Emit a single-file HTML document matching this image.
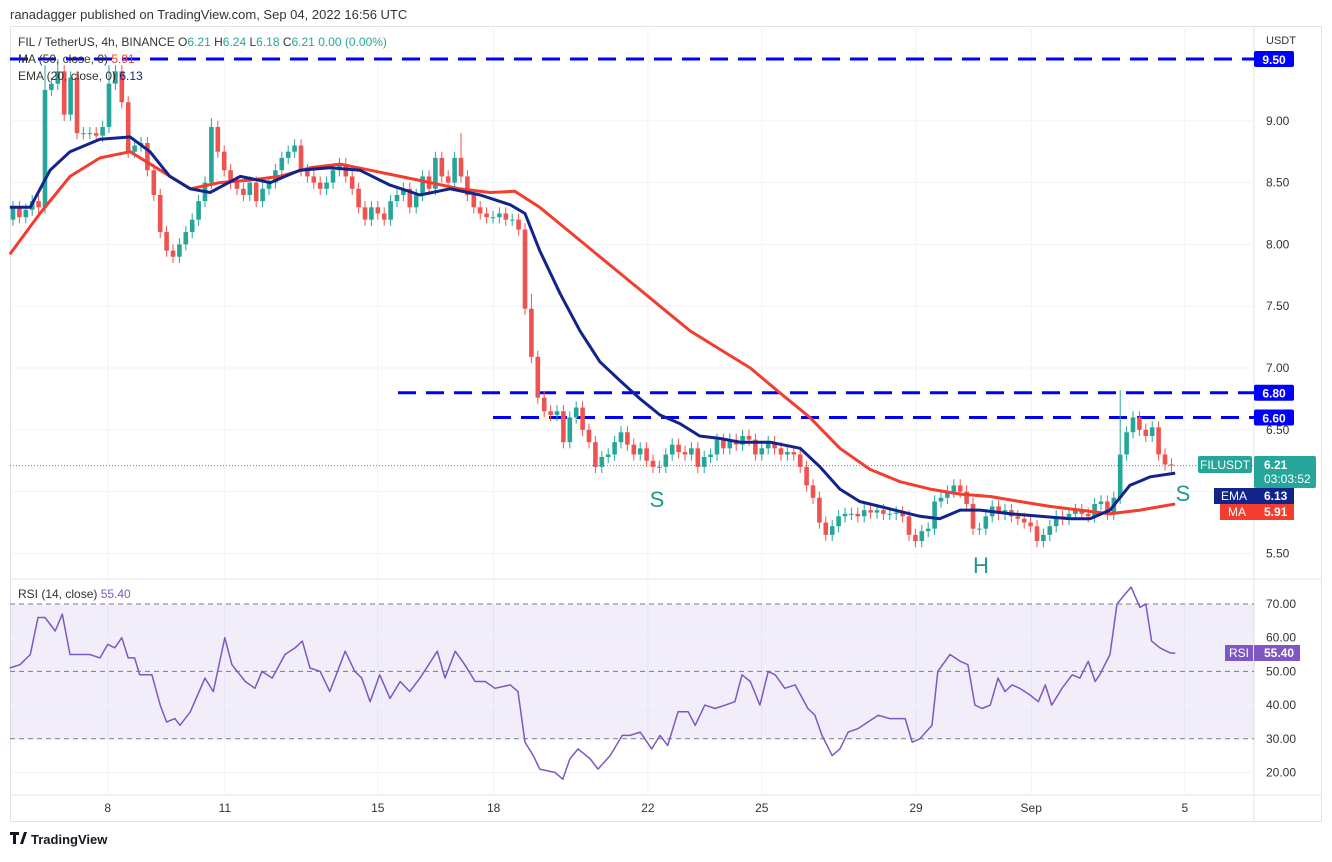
<!DOCTYPE html>
<html><head><meta charset="utf-8"><style>
body{margin:0;background:#fff;font-family:"Liberation Sans",sans-serif;}
svg text{font-family:"Liberation Sans",sans-serif;}
</style></head><body>
<svg id="c" width="1332" height="857" viewBox="0 0 1332 857" xmlns="http://www.w3.org/2000/svg"></svg>
<script>
const closes=[8.3,8.22,8.28,8.35,8.3,9.25,9.3,9.4,9.05,9.35,8.9,8.9,8.9,8.88,8.95,
9.3,9.4,9.15,8.75,8.8,8.82,8.6,8.4,8.1,7.95,7.9,8.0,8.1,8.2,8.35,8.5,
8.95,8.75,8.6,8.5,8.45,8.4,8.5,8.35,8.45,8.5,8.6,8.7,8.75,8.8,8.6,8.55,8.5,8.45,8.5,8.6,
8.65,8.55,8.45,8.3,8.2,8.3,8.25,8.2,8.35,8.4,8.45,8.3,8.4,8.55,8.45,8.7,8.55,8.5,8.7,8.55,
8.4,8.3,8.25,8.22,8.22,8.25,8.2,8.2,8.12,7.48,7.09,6.76,6.65,6.62,6.65,6.4,6.6,6.68,6.5,6.4,
6.2,6.28,6.3,6.4,6.48,6.38,6.3,6.35,6.25,6.2,6.2,6.3,6.38,6.32,6.3,6.35,6.2,6.28,6.3,6.42,
6.35,6.42,6.38,6.45,6.42,6.3,6.35,6.4,6.35,6.3,6.32,6.3,6.2,6.05,5.95,5.75,5.65,5.72,5.8,5.82,
5.82,5.8,5.85,5.83,5.85,5.82,5.82,5.83,5.8,5.65,5.6,5.68,5.7,5.92,5.95,6.0,6.05,6.0,5.9,5.7,
5.7,5.8,5.88,5.82,5.85,5.8,5.78,5.75,5.72,5.6,5.65,5.72,5.8,5.78,5.82,5.85,5.82,5.8,5.9,5.92,
5.82,5.95,6.3,6.48,6.6,6.5,6.45,6.52,6.3,6.22,6.21];
const firstOpen=8.2;
const spikeIdx=[5,7,15,31,70,81,173,176];
const spikeHigh=[9.45,9.5,9.45,9.02,8.9,7.6,6.82,6.65];
const emaT=[-0.5,2.7,5.8,8.9,13.6,18.3,21.4,24.5,27.7,30.8,35.5,40.2,44.8,49.5,54.2,58.9,63.6,68.3,73,77.7,80,82.3,85.5,88.6,91.7,94.8,98,101.1,104.2,107.3,110.5,113.6,118.3,123,126.1,129.2,132.3,137,141.7,144.8,148,151.1,155.8,160.5,165.2,168.3,171.4,174.5,177.7,181.6];
const emaV=[8.3,8.3,8.6,8.75,8.85,8.87,8.75,8.55,8.45,8.42,8.55,8.5,8.6,8.62,8.6,8.48,8.4,8.45,8.4,8.32,8.25,7.95,7.6,7.3,7.05,6.9,6.75,6.62,6.55,6.45,6.43,6.4,6.4,6.35,6.2,6.02,5.92,5.86,5.8,5.78,5.85,5.85,5.82,5.8,5.78,5.78,5.85,6.05,6.12,6.15];
const maT=[-0.5,4.2,8.9,13.6,18.3,23,27.7,32.3,37,41.7,46.4,51.1,55.8,60.5,65.2,69.8,74.5,78.4,82.3,87,91.7,96.4,101.1,105.8,110.5,115.2,119.8,124.5,129.2,133.9,138.6,143.3,148,152.7,157.3,162,166.7,171.4,176.1,181.6];
const maV=[7.92,8.25,8.55,8.7,8.75,8.6,8.45,8.5,8.52,8.55,8.62,8.65,8.6,8.55,8.5,8.45,8.42,8.43,8.3,8.1,7.9,7.7,7.5,7.3,7.15,7.0,6.8,6.6,6.35,6.18,6.08,6.02,5.98,5.96,5.92,5.88,5.85,5.82,5.85,5.9];
const rsiT=[-0.5,1.1,2.7,3.9,5,6.6,7.7,8.9,12,13.6,14.8,15.9,17,18,19,19.8,21.7,23,24,25.3,26.1,27.7,30,31.3,33.1,34.2,36.3,37.8,38.9,40.5,42.5,44.1,45.2,46.4,48,49.5,51.9,53.4,54.5,55.8,57.3,58.9,60.5,62,63.6,66.3,67.5,69.1,70.6,72.2,73.8,75.3,77.7,78.9,80,81.3,82.3,84.7,85.9,87,88.3,90.2,91.4,93.3,95.2,96.4,98,99.8,101.1,102.3,103.9,105.5,106.6,108.1,109.7,111.3,112.8,113.9,115.2,116.7,118,119.1,120.6,122.2,124.2,125.3,126.4,128,129.2,130.5,132,133.6,135.2,137,139.4,140.5,141.7,143.6,144.5,146.4,148,149.2,150.3,151.4,152.7,153.9,155,156.1,157.3,158.9,160.2,161.3,162.3,163.9,165.5,166.7,168,169.1,169.8,171.4,172.5,173.8,174.7,176.1,177,177.9,179.2,180.8,181.6];
const rsiV=[51,52,55,66,66,62,67,55,55,54,58,57,60,54,54,49,49,40,35,36,34,38,48,44,60,52,47,45,50,48,55,57,59,51,50,44,56,50,48,41,49,42,47,44,48,56,48,56,52,47,47,45,46,44,29,25,21,20,18,24,27,24,21,25,31,31,32,27,31,28,38,38,34,40,39,40,41,49,47,40,50,49,45,46,39,37,31,25,27,32,33,35,37,36,36,29,30,34,50,55,53,52,40,39,40,48,44,46,45,43,41,46,40,45,49,48,53,47,49,55,70,73,75,69,70,59,57,55.5,55.4];
const priceTicks=[9.5,9.0,8.5,8.0,7.5,7.0,6.5,6.0,5.5];
const priceTickLabels=["9.50","9.00","8.50","8.00","7.50","7.00","6.50","6.00","5.50"];
const rsiTicks=[70,60,50,40,30,20];
const dateLabels=["8","11","15","18","22","25","29","Sep","5"];
const dateT=[14.8,33.1,57,75.1,99.2,117,141.1,159.1,183.1];

const NS="http://www.w3.org/2000/svg";
const svg=document.getElementById('c');
function el(tag,a,parent){const e=document.createElementNS(NS,tag);for(const k in a)e.setAttribute(k,a[k]);(parent||svg).appendChild(e);return e;}
const X0=13,DX=6.4,L=10,R=1254;
const xs=t=>X0+t*DX;
const ys=p=>59+(9.5-p)*123.6;
const ry=v=>604+(70-v)*3.37;

// frame
let f=el('rect',{x:10.5,y:26.5,width:1311,height:795,fill:'none',stroke:'#e0e3eb'});

el('line',{x1:R,y1:26,x2:R,y2:821,stroke:'#e0e3eb'});
el('line',{x1:10,y1:579,x2:1322,y2:579,stroke:'#e0e3eb'});
el('line',{x1:10,y1:795,x2:1322,y2:795,stroke:'#e0e3eb'});
// grid
priceTicks.forEach((p,i)=>{if(i>0)el('line',{x1:L,x2:R,y1:ys(p),y2:ys(p),stroke:'#f0f3fa'});
 const t=el('text',{x:1266,y:ys(p)+4,'font-size':12,fill:'#333'});t.textContent=priceTickLabels[i];
 });
dateT.forEach((d,i)=>{const x=xs(d);el('line',{x1:x,x2:x,y1:26,y2:795,stroke:'#f0f3fa'});
 const t=el('text',{x:x,y:812,'font-size':12,fill:'#333','text-anchor':'middle'});t.textContent=dateLabels[i];
 });
// RSI pane
let band=el('rect',{x:L,y:ry(70),width:R-L,height:ry(30)-ry(70),fill:'rgba(126,87,194,0.1)'});

rsiTicks.forEach(v=>{
 if(v==70||v==50||v==30)el('line',{x1:L,x2:R,y1:ry(v),y2:ry(v),stroke:'#787b86','stroke-dasharray':'5,4'});
 else el('line',{x1:L,x2:R,y1:ry(v),y2:ry(v),stroke:'#f0f3fa'});
 const t=el('text',{x:1266,y:ry(v)+4,'font-size':12,fill:'#333'});t.textContent=v.toFixed(2);
 });
// horizontal levels
function level(p,x1,lbl){const ln=el('line',{x1:x1,x2:R,y1:ys(p),y2:ys(p),stroke:'#0000ff','stroke-width':3,'stroke-dasharray':'18,10'});
 
 el('rect',{x:R,y:ys(p)-8,width:40,height:16,fill:'#0000ff',rx:2});
 const t=el('text',{x:R+20,y:ys(p)+5,'font-size':12,fill:'#fff','text-anchor':'middle','font-weight':'bold'});t.textContent=lbl;}
level(9.5,10,'9.50');level(6.8,398,'6.80');level(6.6,493,'6.60');
// last price dotted
el('line',{x1:L,x2:R,y1:ys(6.21),y2:ys(6.21),stroke:'#26a69a','stroke-dasharray':'1,2'});
// candles
let prev=firstOpen;
closes.forEach((c,i)=>{const o=prev;prev=c;const up=c>=o;const col=up?'#26a69a':'#ef5350';
 let hi=Math.max(o,c)+0.05,lo=Math.min(o,c)-0.05;const k=spikeIdx.indexOf(i);if(k>=0)hi=spikeHigh[k];
 const x=xs(i);
 const w=el('line',{x1:x,x2:x,y1:ys(hi),y2:ys(lo),stroke:col,'stroke-width':1});
 const b=el('rect',{x:x-2.3,y:ys(Math.max(o,c)),width:4.6,height:Math.max(1,ys(Math.min(o,c))-ys(Math.max(o,c))),fill:col});
 
 });
function path(T,V,fy,col,w,name){const d=T.map((t,i)=>(i?'L':'M')+xs(t).toFixed(1)+','+fy(V[i]).toFixed(1)).join('');
 const p=el('path',{d:d,fill:'none',stroke:col,'stroke-width':w,'stroke-linejoin':'round'});
 }
path(maT,maV,ys,'#f23d2f',3,'ma50-line');
path(emaT,emaV,ys,'#10248c',3,'ema20-line');
path(rsiT,rsiV,ry,'#7e57c2',1.5,'rsi-line');
// annotations
[['S',657,507],['H',981,573],['S',1183,501]].forEach(a=>{const t=el('text',{x:a[1],y:a[2],'font-size':22,fill:'#1c9b8a','text-anchor':'middle'});t.textContent=a[0];
 });
// right labels
el('rect',{x:1198,y:456,width:54,height:17,fill:'#26a69a',rx:2});
let t=el('text',{x:1225,y:469,'font-size':12,fill:'#fff','text-anchor':'middle'});t.textContent='FILUSDT';
el('rect',{x:R,y:456,width:62,height:32,fill:'#26a69a',rx:2});
t=el('text',{x:R+10,y:469,'font-size':12,fill:'#fff','font-weight':'bold'});t.textContent='6.21';
t=el('text',{x:R+10,y:483,'font-size':12,fill:'#fff'});t.textContent='03:03:52';
el('rect',{x:1214,y:488,width:40,height:16,fill:'#10248c'});
t=el('text',{x:1234,y:500,'font-size':12,fill:'#fff','text-anchor':'middle'});t.textContent='EMA';
el('rect',{x:R,y:488,width:40,height:16,fill:'#10248c'});
t=el('text',{x:R+10,y:500,'font-size':12,fill:'#fff','font-weight':'bold'});t.textContent='6.13';
el('rect',{x:1220,y:504,width:34,height:16,fill:'#f23d2f'});
t=el('text',{x:1237,y:516,'font-size':12,fill:'#fff','text-anchor':'middle'});t.textContent='MA';
el('rect',{x:R,y:504,width:40,height:16,fill:'#f23d2f'});
t=el('text',{x:R+10,y:516,'font-size':12,fill:'#fff','font-weight':'bold'});t.textContent='5.91';
el('rect',{x:1225,y:645,width:28,height:16,fill:'#7e57c2'});
t=el('text',{x:1239,y:657,'font-size':12,fill:'#fff','text-anchor':'middle'});t.textContent='RSI';
el('rect',{x:R,y:645,width:46,height:16,fill:'#7e57c2'});
t=el('text',{x:R+10,y:657,'font-size':12,fill:'#fff','font-weight':'bold'});t.textContent='55.40';
t=el('text',{x:1266,y:44,'font-size':11,fill:'#333'});t.textContent='USDT';
// header texts
t=el('text',{x:10,y:19,'font-size':13,fill:'#333'});t.textContent='ranadagger published on TradingView.com, Sep 04, 2022 16:56 UTC';

t=el('text',{x:18,y:46,'font-size':12,fill:'#333'});
t.innerHTML='FIL / TetherUS, 4h, BINANCE  O<tspan fill="#26a69a">6.21</tspan>  H<tspan fill="#26a69a">6.24</tspan>  L<tspan fill="#26a69a">6.18</tspan>  C<tspan fill="#26a69a">6.21</tspan>  <tspan fill="#26a69a">0.00 (0.00%)</tspan>';

t=el('text',{x:18,y:63,'font-size':12,fill:'#333'});t.innerHTML='MA (50, close, 0)  <tspan fill="#f23d2f">5.91</tspan>';

t=el('text',{x:18,y:80,'font-size':12,fill:'#333'});t.innerHTML='EMA (20, close, 0)  <tspan fill="#10248c">6.13</tspan>';

t=el('text',{x:18,y:598,'font-size':12,fill:'#333'});t.innerHTML='RSI (14, close)  <tspan fill="#7e57c2">55.40</tspan>';

// logo
el('path',{d:'M10 832h9v3h-3v9h-3v-9h-3z M20 844l4-12h3l-4 12z',fill:'#131722'});
t=el('text',{x:31,y:844,'font-size':13,fill:'#131722','font-weight':'bold'});t.textContent='TradingView';

</script>
</body></html>
